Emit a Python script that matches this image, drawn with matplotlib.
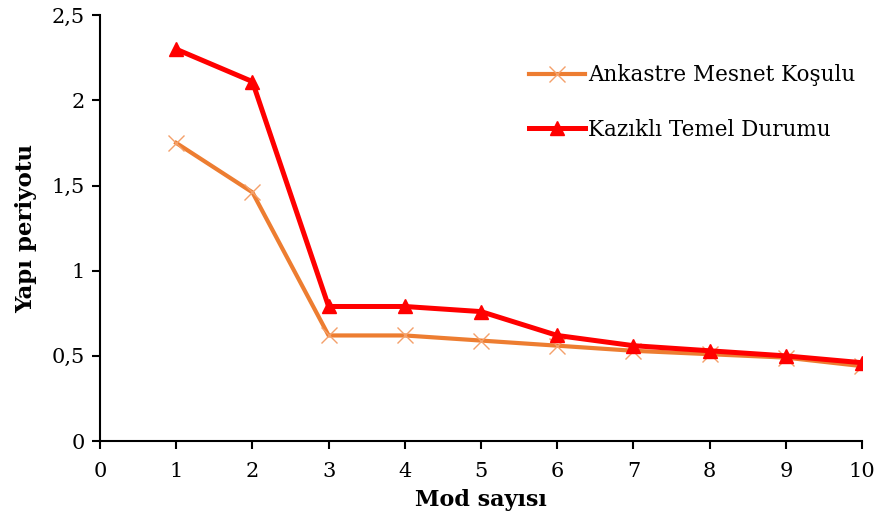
import matplotlib.pyplot as plt
from matplotlib.ticker import FuncFormatter

modes = [1, 2, 3, 4, 5, 6, 7, 8, 9, 10]
ankastre = [1.75, 1.46, 0.62, 0.62, 0.59, 0.56, 0.53, 0.51, 0.49, 0.44]
kazikli = [2.30, 2.11, 0.79, 0.79, 0.76, 0.62, 0.56, 0.53, 0.50, 0.46]

plt.rcParams['font.family'] = ['DejaVu Serif']

fig = plt.figure(figsize=(8.81, 5.22), dpi=100)
ax = fig.add_axes([0.1135, 0.155, 0.865, 0.816])

ax.plot(modes, ankastre, color='#ED7D31', lw=3.0, marker='x', ms=11,
        mew=1.0, mec='#F4A06A', label='Ankastre Mesnet Koşulu')
ax.plot(modes, kazikli, color='#FF0000', lw=3.6, marker='^', ms=10,
        label='Kazıklı Temel Durumu')

ax.set_xlim(0, 10)
ax.set_ylim(0, 2.5)
ax.set_xticks(range(0, 11))
ax.set_yticks([0, 0.5, 1, 1.5, 2, 2.5])
ax.yaxis.set_major_formatter(FuncFormatter(lambda v, p: f'{v:g}'.replace('.', ',')))

for s in ['top', 'right']:
    ax.spines[s].set_visible(False)
for s in ['left', 'bottom']:
    ax.spines[s].set_linewidth(1.5)
ax.tick_params(direction='out', length=6, width=1.5, labelsize=15)
ax.tick_params(axis='x', pad=9)
ax.tick_params(axis='y', pad=5)

ax.set_xlabel('Mod sayısı', fontsize=16, fontweight='bold')
ax.xaxis.set_label_coords(0.5, -0.112)
ax.set_ylabel('Yapı periyotu', fontsize=16.5, fontweight='bold', labelpad=10)

ax.legend(loc='upper left', bbox_to_anchor=(0.537, 0.93), frameon=False,
          fontsize=15.5, labelspacing=1.5, handlelength=2.6, handletextpad=0.15)

plt.savefig('out.png')
